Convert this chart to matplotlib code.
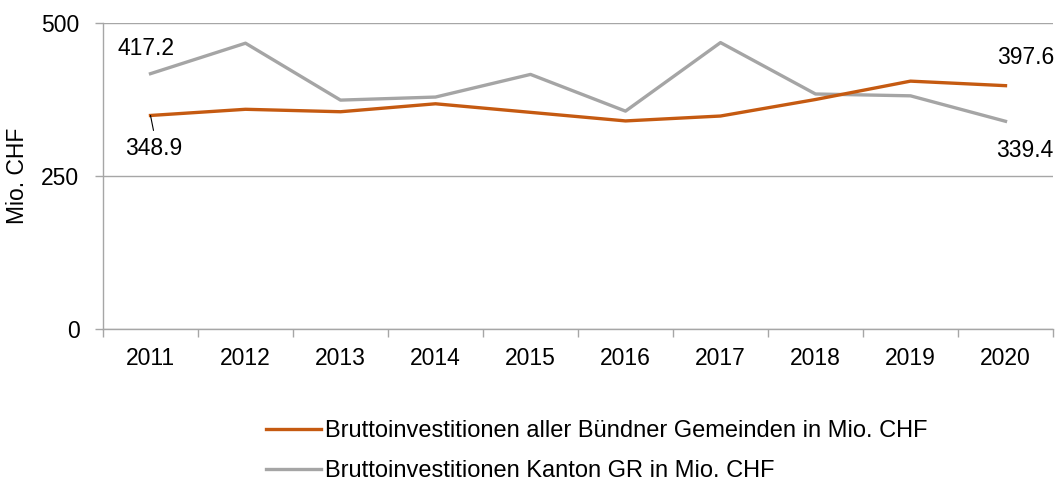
import matplotlib.pyplot as plt
from matplotlib.ticker import MultipleLocator, FixedLocator

plt.rcParams["font.family"] = ["Liberation Sans", "DejaVu Sans"]

years = ["2011", "2012", "2013", "2014", "2015", "2016", "2017", "2018", "2019", "2020"]
gemeinden = [348.9, 359, 355, 368, 354, 340, 348, 375, 405, 397.6]
kanton = [417.2, 467, 374, 379, 416, 356, 468, 384, 381, 339.4]

ORANGE = "#C55A11"
GREY = "#A5A5A5"
AXIS = "#A6A6A6"
FS = 16.5

fig = plt.figure(figsize=(10.62, 4.84), dpi=100)
ax = fig.add_axes([103 / 1062, 1 - 329 / 484, 950 / 1062, 306 / 484])

x = list(range(len(years)))
l1, = ax.plot(x, gemeinden, color=ORANGE, lw=2.4, solid_joinstyle="round",
              label="Bruttoinvestitionen aller Bündner Gemeinden in Mio. CHF", zorder=3)
l2, = ax.plot(x, kanton, color=GREY, lw=2.4, solid_joinstyle="round",
              label="Bruttoinvestitionen Kanton GR in Mio. CHF", zorder=2)

ax.set_xlim(-0.5, len(years) - 0.5)
ax.set_ylim(0, 500)
ax.yaxis.set_major_locator(MultipleLocator(250))
ax.set_xticks(x)
ax.set_xticklabels(years)
ax.xaxis.set_minor_locator(FixedLocator([i - 0.5 for i in range(len(years) + 1)]))
ax.tick_params(axis="x", which="major", length=0, pad=13, labelsize=FS)
ax.tick_params(axis="x", which="minor", length=6, color=AXIS, width=1)
ax.tick_params(axis="y", length=6, color=AXIS, width=1, labelsize=FS, pad=11)

ax.grid(axis="y", color=AXIS, lw=1)
ax.set_axisbelow(True)
for s in ["top", "right"]:
    ax.spines[s].set_visible(False)
for s in ["left", "bottom"]:
    ax.spines[s].set_color(AXIS)
    ax.spines[s].set_linewidth(1)

fig.text(18 / 1062, 1 - 175.5 / 484, "Mio. CHF", rotation=90, ha="center", va="center",
         fontsize=FS)

# data labels at first and last point
def lab(i, vals, dx, dy):
    ax.annotate(f"{vals[i]:.1f}", (x[i], vals[i]), xytext=(dx, dy),
                textcoords="offset pixels", ha="center", va="center", fontsize=FS)

lab(0, kanton, -5, 25)
lab(0, gemeinden, 3, -33)
lab(-1, gemeinden, 20, 28)
lab(-1, kanton, 19, -29)

# leader line for the 348.9 label
ax.annotate("", (x[0], gemeinden[0]), xytext=(3, -15), textcoords="offset pixels",
            arrowprops=dict(arrowstyle="-", color="black", lw=0.8, shrinkA=0, shrinkB=0))

fig.legend(handles=[l1, l2], loc="upper left", bbox_to_anchor=(257 / 1062, 1 - 411 / 484),
           frameon=False, fontsize=17, handlelength=2.3, handletextpad=0.2,
           labelspacing=0.75, borderaxespad=0)

fig.savefig("out.png", dpi=100)
